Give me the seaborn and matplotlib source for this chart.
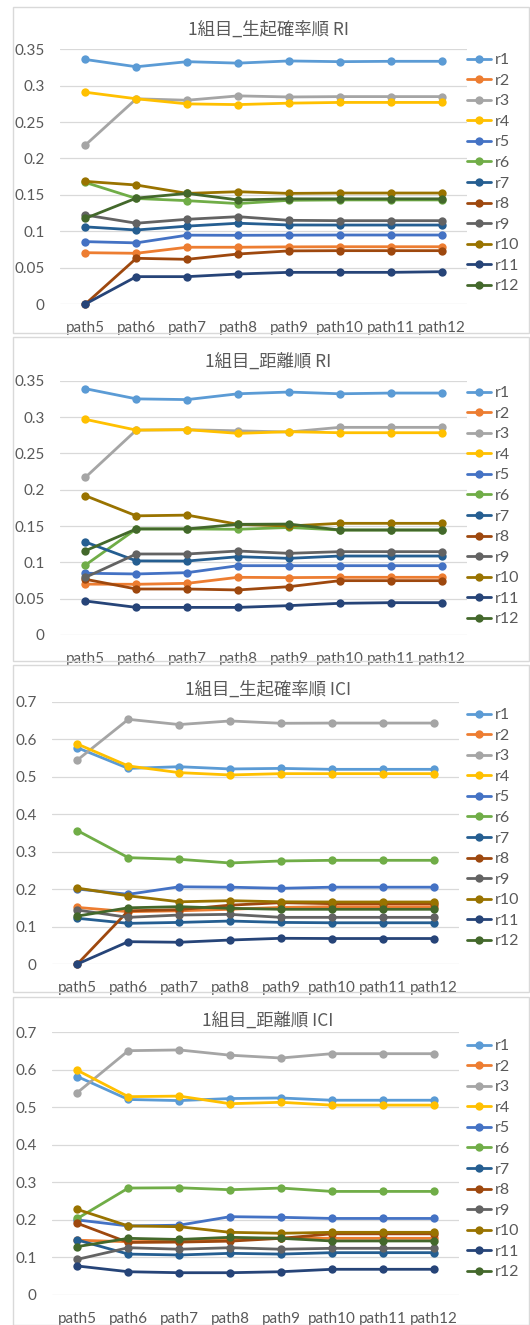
import matplotlib
matplotlib.use("Agg")
import matplotlib.pyplot as plt
from matplotlib.lines import Line2D
from matplotlib.patches import Rectangle
from matplotlib.ticker import FuncFormatter
import seaborn as sns
import pandas as pd

# ---------------- data ----------------
paths = ["path5", "path6", "path7", "path8", "path9", "path10", "path11", "path12"]
series = ["r1", "r2", "r3", "r4", "r5", "r6", "r7", "r8", "r9", "r10", "r11", "r12"]
colors = ["#5B9BD5", "#ED7D31", "#A5A5A5", "#FFC000", "#4472C4", "#70AD47",
          "#255E91", "#9E480E", "#636363", "#997300", "#264478", "#43682B"]

titles = ["1組目_生起確率順 RI", "1組目_距離順 RI", "1組目_生起確率順 ICI", "1組目_距離順 ICI"]

ri_occ = {
    "r1": [0.336, 0.326, 0.333, 0.331, 0.334, 0.333, 0.3335, 0.3335],
    "r2": [0.0705, 0.0697, 0.078, 0.078, 0.0785, 0.0787, 0.0787, 0.0787],
    "r3": [0.2185, 0.282, 0.280, 0.286, 0.2845, 0.285, 0.285, 0.285],
    "r4": [0.291, 0.282, 0.275, 0.274, 0.276, 0.277, 0.277, 0.277],
    "r5": [0.0857, 0.084, 0.0946, 0.0944, 0.0946, 0.0948, 0.0948, 0.0948],
    "r6": [0.167, 0.145, 0.142, 0.138, 0.1425, 0.143, 0.143, 0.143],
    "r7": [0.106, 0.1017, 0.107, 0.111, 0.1086, 0.1085, 0.1085, 0.1085],
    "r8": [0.0, 0.0628, 0.0614, 0.0687, 0.073, 0.0733, 0.0733, 0.0733],
    "r9": [0.1223, 0.111, 0.1164, 0.12, 0.115, 0.1145, 0.1145, 0.1145],
    "r10": [0.1685, 0.1635, 0.152, 0.1543, 0.152, 0.1525, 0.1525, 0.1525],
    "r11": [0.0, 0.0376, 0.0376, 0.0412, 0.0435, 0.0435, 0.0435, 0.0444],
    "r12": [0.1177, 0.1455, 0.152, 0.143, 0.1445, 0.1445, 0.1445, 0.1445],
}
ri_dist = {
    "r1": [0.339, 0.325, 0.324, 0.332, 0.3344, 0.332, 0.333, 0.333],
    "r2": [0.070, 0.0698, 0.0711, 0.0794, 0.079, 0.0794, 0.0794, 0.0794],
    "r3": [0.217, 0.282, 0.2826, 0.281, 0.2794, 0.2858, 0.2858, 0.2858],
    "r4": [0.2968, 0.282, 0.2826, 0.2775, 0.2798, 0.2784, 0.2784, 0.2784],
    "r5": [0.085, 0.084, 0.0858, 0.0954, 0.0954, 0.0954, 0.0954, 0.0954],
    "r6": [0.0963, 0.146, 0.146, 0.1455, 0.148, 0.1445, 0.1445, 0.1445],
    "r7": [0.128, 0.102, 0.1018, 0.1078, 0.1055, 0.1087, 0.1087, 0.1087],
    "r8": [0.0767, 0.0633, 0.0633, 0.062, 0.0665, 0.0748, 0.0748, 0.0748],
    "r9": [0.0794, 0.1115, 0.1115, 0.1156, 0.1124, 0.1147, 0.1147, 0.1147],
    "r10": [0.1917, 0.164, 0.165, 0.1523, 0.150, 0.1537, 0.1537, 0.1537],
    "r11": [0.0468, 0.038, 0.038, 0.038, 0.0404, 0.0436, 0.0445, 0.0445],
    "r12": [0.116, 0.146, 0.146, 0.1523, 0.1527, 0.1445, 0.1445, 0.1445],
}
ici_occ = {
    "r1": [0.577, 0.522, 0.5265, 0.5205, 0.522, 0.5195, 0.5195, 0.5195],
    "r2": [0.151, 0.1396, 0.142, 0.146, 0.151, 0.153, 0.153, 0.153],
    "r3": [0.5445, 0.653, 0.639, 0.6486, 0.6424, 0.643, 0.643, 0.643],
    "r4": [0.587, 0.5285, 0.5107, 0.5045, 0.508, 0.508, 0.508, 0.508],
    "r5": [0.200, 0.186, 0.206, 0.205, 0.202, 0.205, 0.205, 0.205],
    "r6": [0.356, 0.2838, 0.2794, 0.2696, 0.275, 0.2767, 0.2767, 0.2767],
    "r7": [0.122, 0.1085, 0.111, 0.1147, 0.111, 0.110, 0.110, 0.110],
    "r8": [0.0, 0.142, 0.145, 0.157, 0.1636, 0.161, 0.161, 0.161],
    "r9": [0.144, 0.1245, 0.1307, 0.1325, 0.1245, 0.1245, 0.1245, 0.1245],
    "r10": [0.2025, 0.182, 0.166, 0.169, 0.166, 0.1655, 0.1655, 0.1655],
    "r11": [0.0, 0.0596, 0.058, 0.064, 0.0686, 0.068, 0.068, 0.068],
    "r12": [0.128, 0.150, 0.153, 0.1486, 0.146, 0.146, 0.146, 0.146],
}
ici_dist = {
    "r1": [0.582, 0.521, 0.518, 0.5235, 0.525, 0.519, 0.519, 0.519],
    "r2": [0.146, 0.142, 0.144, 0.149, 0.152, 0.151, 0.151, 0.151],
    "r3": [0.5395, 0.651, 0.653, 0.639, 0.6315, 0.643, 0.643, 0.643],
    "r4": [0.5987, 0.5285, 0.530, 0.5097, 0.5135, 0.506, 0.506, 0.506],
    "r5": [0.200, 0.184, 0.186, 0.2087, 0.207, 0.204, 0.204, 0.204],
    "r6": [0.204, 0.285, 0.2858, 0.2805, 0.285, 0.276, 0.276, 0.276],
    "r7": [0.1465, 0.109, 0.1066, 0.111, 0.109, 0.1128, 0.1128, 0.1128],
    "r8": [0.191, 0.140, 0.141, 0.1435, 0.151, 0.163, 0.163, 0.163],
    "r9": [0.095, 0.126, 0.122, 0.126, 0.122, 0.1244, 0.1244, 0.1244],
    "r10": [0.228, 0.184, 0.182, 0.167, 0.1645, 0.167, 0.167, 0.167],
    "r11": [0.0773, 0.062, 0.0594, 0.0594, 0.062, 0.0685, 0.0685, 0.0685],
    "r12": [0.129, 0.151, 0.148, 0.1537, 0.151, 0.144, 0.144, 0.144],
}
datasets = [ri_occ, ri_dist, ici_occ, ici_dist]
yticks_ri = [0, 0.05, 0.1, 0.15, 0.2, 0.25, 0.3, 0.35]
yticks_ici = [0, 0.1, 0.2, 0.3, 0.4, 0.5, 0.6, 0.7]
yticks_list = [yticks_ri, yticks_ri, yticks_ici, yticks_ici]

# ---------------- layout (pixels) ----------------
W, H = 530, 1325
sns.set_theme(style="white")
plt.rcParams["font.family"] = ["Lato", "Noto Sans CJK JP", "DejaVu Sans"]
TXT = "#595959"

fig = plt.figure(figsize=(W / 100, H / 100), dpi=100)
fig.patch.set_facecolor("white")

# plot area: left, right, top(ymax line), bottom(0 line)
areas = [(60, 467, 49.3, 304), (60, 467, 380.7, 635),
         (52, 459, 701.7, 964), (52, 459, 1032.3, 1295)]
boxes = [(13, 7, 333), (13, 337, 661), (13, 665, 992), (13, 997, 1325)]
title_y = [30, 362, 690, 1021]
legend_top = [53, 386, 708, 1039]

def fx(x):
    return x / W

def fy(y):
    return 1 - y / H

for i, (data, ttl, yt) in enumerate(zip(datasets, titles, yticks_list)):
    bx0, by0, by1 = boxes[i]
    fig.patches.append(Rectangle((fx(bx0), fy(by1)), fx(W - 1 - bx0), (by1 - by0) / H,
                                 transform=fig.transFigure, fill=False,
                                 edgecolor="#D9D9D9", linewidth=1.0, zorder=0))
    l, r, t, b = areas[i]
    ax = fig.add_axes([fx(l), fy(b), (r - l) / W, (b - t) / H])
    ax.set_facecolor("none")
    df = pd.DataFrame([(p, s, data[s][k]) for s in series for k, p in enumerate(paths)],
                      columns=["path", "series", "value"])
    sns.lineplot(data=df, x="path", y="value", hue="series", hue_order=series,
                 palette=colors, marker="o", markersize=6, markeredgewidth=0,
                 linewidth=2.0, legend=False, sort=False, ax=ax, clip_on=False)
    ax.set_xlim(-0.5, 7.5)
    ax.set_ylim(0, yt[-1])
    ax.set_yticks(yt)
    ax.yaxis.set_major_formatter(FuncFormatter(lambda v, pos: f"{v:g}"))
    ax.grid(axis="y", color="#D9D9D9", linewidth=0.9)
    ax.grid(axis="x", visible=False)
    for sp in ax.spines.values():
        sp.set_visible(False)
    ax.tick_params(axis="both", length=0, labelsize=11, labelcolor=TXT)
    ax.tick_params(axis="y", pad=11)
    ax.tick_params(axis="x", pad=12)
    ax.set_xlabel("")
    ax.set_ylabel("")
    fig.text(fx(268), fy(title_y[i]), ttl, ha="center", va="center",
             fontsize=12.5, color=TXT, family=["Noto Sans CJK JP", "DejaVu Sans"])
    handles = [Line2D([], [], color=c, marker="o", markersize=6, markeredgewidth=0,
                      linewidth=2.0) for c in colors]
    fig.legend(handles, series, loc="upper left",
               bbox_to_anchor=(fx(467), fy(legend_top[i])),
               bbox_transform=fig.transFigure, frameon=False, fontsize=11.5,
               labelcolor=TXT, handlelength=1.5, handletextpad=0.25,
               labelspacing=0.4, borderpad=0, borderaxespad=0)

fig.savefig("out.png", dpi=100, facecolor="white")
